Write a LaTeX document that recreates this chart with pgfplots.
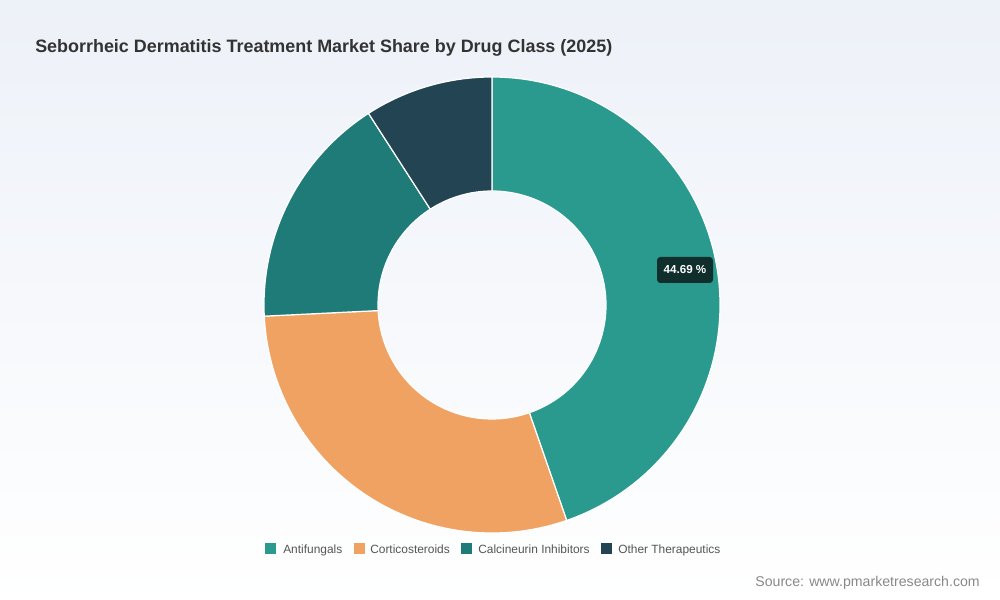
\documentclass[border=0pt]{standalone}
\usepackage{pgfplots}
\pgfplotsset{compat=1.18}
\usepackage{pgfplotstable}
\usepackage{fontspec}
\setmainfont{Liberation Sans}
\usetikzlibrary{calc}
\definecolor{cA}{HTML}{2A9A8E}
\definecolor{cB}{HTML}{F0A262}
\definecolor{cC}{HTML}{1F7B78}
\definecolor{cD}{HTML}{234452}
\definecolor{bgtop}{HTML}{EDF1F8}
\definecolor{titlec}{HTML}{333333}
\definecolor{legc}{HTML}{555555}
\definecolor{srcc}{HTML}{888888}
\definecolor{tipc}{HTML}{0F2E2C}

\pgfplotstableread{
label value
Antifungals 44.69
Corticosteroids 29.53
Calcineurin 16.67
Other 9.11
}\sharedata

\newcommand\slice[3]{%
  \fill[#3, draw=white, line width=0.9pt, line join=round]
    ($(axis cs:492,295)+(#1:171pt)$) arc[start angle=#1, end angle=#2, radius=171pt]
    -- ($(axis cs:492,295)+(#2:85.5pt)$) arc[start angle=#2, end angle=#1, radius=85.5pt] -- cycle;%
}

\begin{document}
\begin{tikzpicture}
\pgfplotstablegetelem{0}{value}\of\sharedata \pgfmathsetmacro\vA{\pgfplotsretval}
\pgfplotstablegetelem{1}{value}\of\sharedata \pgfmathsetmacro\vB{\pgfplotsretval}
\pgfplotstablegetelem{2}{value}\of\sharedata \pgfmathsetmacro\vC{\pgfplotsretval}
\pgfplotstablegetelem{3}{value}\of\sharedata \pgfmathsetmacro\vD{\pgfplotsretval}
\pgfmathsetmacro\aO{90}
\pgfmathsetmacro\aA{90-3.6*\vA}
\pgfmathsetmacro\aB{\aA-3.6*\vB}
\pgfmathsetmacro\aC{\aB-3.6*\vC}
\pgfmathsetmacro\aD{\aC-3.6*\vD}
\begin{axis}[
  hide axis, x=0.75pt, y=0.75pt,
  xmin=0, xmax=1000, ymin=0, ymax=600,
  clip=false, scale only axis,
]
\fill[top color=bgtop, bottom color=white, draw=none] (axis cs:0,0) rectangle (axis cs:1000,600);
\slice{\aO}{\aA}{cA}
\slice{\aA}{\aB}{cB}
\slice{\aB}{\aC}{cC}
\slice{\aC}{\aD}{cD}
\node[anchor=base west, text=titlec, font=\fontsize{13.45}{16}\selectfont\bfseries, inner sep=0pt] at (axis cs:35,547) {Seborrheic Dermatitis Treatment Market Share by Drug Class (2025)};
% tooltip
\node[fill=tipc, rounded corners=2.5pt, text=white, font=\fontsize{8.7}{10}\selectfont\bfseries, minimum width=42pt, minimum height=19.5pt, inner sep=0pt] at (axis cs:685,330) {44.69 \%};
% legend
\fill[cA] (axis cs:265,45.5) rectangle (axis cs:276,56.5);
\node[anchor=base west, text=legc, font=\fontsize{8.95}{10}\selectfont, inner sep=0pt] at (axis cs:283,46.8) {Antifungals};
\fill[cB] (axis cs:354,45.5) rectangle (axis cs:365,56.5);
\node[anchor=base west, text=legc, font=\fontsize{8.95}{10}\selectfont, inner sep=0pt] at (axis cs:370,46.8) {Corticosteroids};
\fill[cC] (axis cs:461,45.5) rectangle (axis cs:472,56.5);
\node[anchor=base west, text=legc, font=\fontsize{8.95}{10}\selectfont, inner sep=0pt] at (axis cs:478,46.8) {Calcineurin Inhibitors};
\fill[cD] (axis cs:601,45.5) rectangle (axis cs:612,56.5);
\node[anchor=base west, text=legc, font=\fontsize{8.95}{10}\selectfont, inner sep=0pt] at (axis cs:618,46.8) {Other Therapeutics};
% source
\node[anchor=base east, text=srcc, font=\fontsize{10.6}{12}\selectfont, inner sep=0pt] at (axis cs:980,13) {Source: www.pmarketresearch.com};
\end{axis}
\end{tikzpicture}
\end{document}
